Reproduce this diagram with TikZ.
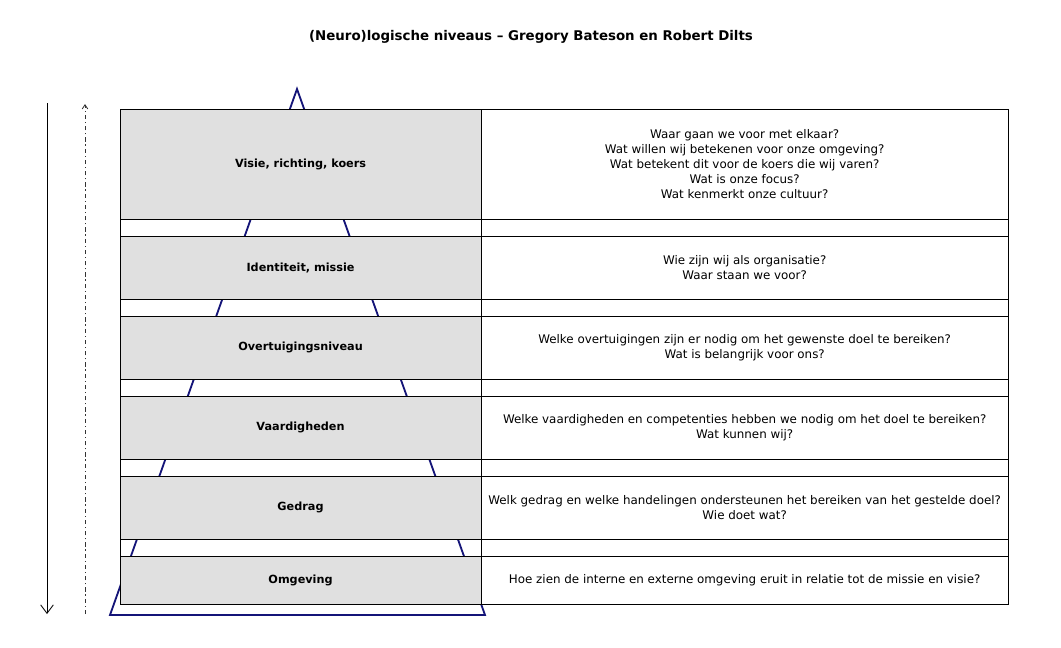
\documentclass[tikz,border=0pt]{standalone}
\usepackage{fontspec}
\setmainfont{DejaVu Sans}
\usepackage{xcolor}
\usetikzlibrary{arrows.meta, positioning}

\definecolor{pyramid}{RGB}{20,20,120}

\begin{document}
\begin{tikzpicture}[
    x=0.025cm, y=-0.025cm,
    font=\fontsize{8.45}{10.7}\selectfont,
    level/.style={draw, rectangle, line width=0.7pt, fill=black!12, minimum width=9.025cm, minimum height=1.575cm, inner sep=0pt, outer sep=0pt, align=center, font=\fontsize{8}{10.7}\selectfont\bfseries},
    ask/.style={draw, rectangle, line width=0.7pt, fill=white, minimum width=13.175cm, minimum height=1.575cm, inner sep=0pt, outer sep=0pt, align=center},
    gapl/.style={draw, rectangle, line width=0.7pt, minimum width=9.025cm, minimum height=0.425cm, inner sep=0pt, outer sep=0pt},
    gapr/.style={draw, rectangle, line width=0.7pt, fill=white, minimum width=13.175cm, minimum height=0.425cm, inner sep=0pt, outer sep=0pt}
]
\useasboundingbox (0,0) rectangle (1061,647);

% Title
\node (title) at (531,37) {\fontsize{9.5}{11}\selectfont\bfseries (Neuro)logische niveaus -- Gregory Bateson en Robert Dilts};

% Pyramid (behind the table)
\coordinate (apex) at (297,89);
\coordinate (baseL) at (110,615);
\coordinate (baseR) at (485,615);
\draw[pyramid, line width=1.3pt, line join=miter] (apex) -- (baseR) -- (baseL) -- cycle;

% Nodes
\node (visie) [level, minimum height=2.75cm, anchor=north west] at (120,109) {Visie, richting, koers};
\node (visieQ) [ask, minimum height=2.75cm, right=0pt of visie] {Waar gaan we voor met elkaar?\\ Wat willen wij betekenen voor onze omgeving?\\ Wat betekent dit voor de koers die wij varen?\\ Wat is onze focus?\\ Wat kenmerkt onze cultuur?};
\node (gap1) [gapl, below=0pt of visie] {};
\node (gap1Q) [gapr, right=0pt of gap1] {};

\node (identiteit) [level, below=0pt of gap1] {Identiteit, missie};
\node (identiteitQ) [ask, right=0pt of identiteit] {Wie zijn wij als organisatie?\\ Waar staan we voor?};
\node (gap2) [gapl, below=0pt of identiteit] {};
\node (gap2Q) [gapr, right=0pt of gap2] {};

\node (overtuiging) [level, below=0pt of gap2] {Overtuigingsniveau};
\node (overtuigingQ) [ask, right=0pt of overtuiging] {Welke overtuigingen zijn er nodig om het gewenste doel te bereiken?\\ Wat is belangrijk voor ons?};
\node (gap3) [gapl, below=0pt of overtuiging] {};
\node (gap3Q) [gapr, right=0pt of gap3] {};

\node (vaardig) [level, below=0pt of gap3] {Vaardigheden};
\node (vaardigQ) [ask, right=0pt of vaardig] {Welke vaardigheden en competenties hebben we nodig om het doel te bereiken?\\ Wat kunnen wij?};
\node (gap4) [gapl, below=0pt of vaardig] {};
\node (gap4Q) [gapr, right=0pt of gap4] {};

\node (gedrag) [level, below=0pt of gap4] {Gedrag};
\node (gedragQ) [ask, right=0pt of gedrag] {Welk gedrag en welke handelingen ondersteunen het bereiken van het gestelde doel?\\ Wie doet wat?};
\node (gap5) [gapl, below=0pt of gedrag] {};
\node (gap5Q) [gapr, right=0pt of gap5] {};

\node (omgeving) [level, minimum height=1.2cm, below=0pt of gap5] {Omgeving};
\node (omgevingQ) [ask, minimum height=1.2cm, right=0pt of omgeving] {Hoe zien de interne en externe omgeving eruit in relatie tot de missie en visie?};

% Arrows
\coordinate (downTop) at (47,103);
\coordinate (downEnd) at (47,614);
\coordinate (upStart) at (85,614);
\coordinate (upEnd) at (85,104);
\draw[-{Straight Barb[length=6pt, width=9pt]}, line width=0.6pt] (downTop) -- (downEnd);
\draw[-{Straight Barb[length=3pt, width=4pt]}, line width=0.6pt, dash pattern=on 3pt off 2pt on 1pt off 2pt, black!80] (upStart) -- (upEnd);

\end{tikzpicture}
\end{document}
